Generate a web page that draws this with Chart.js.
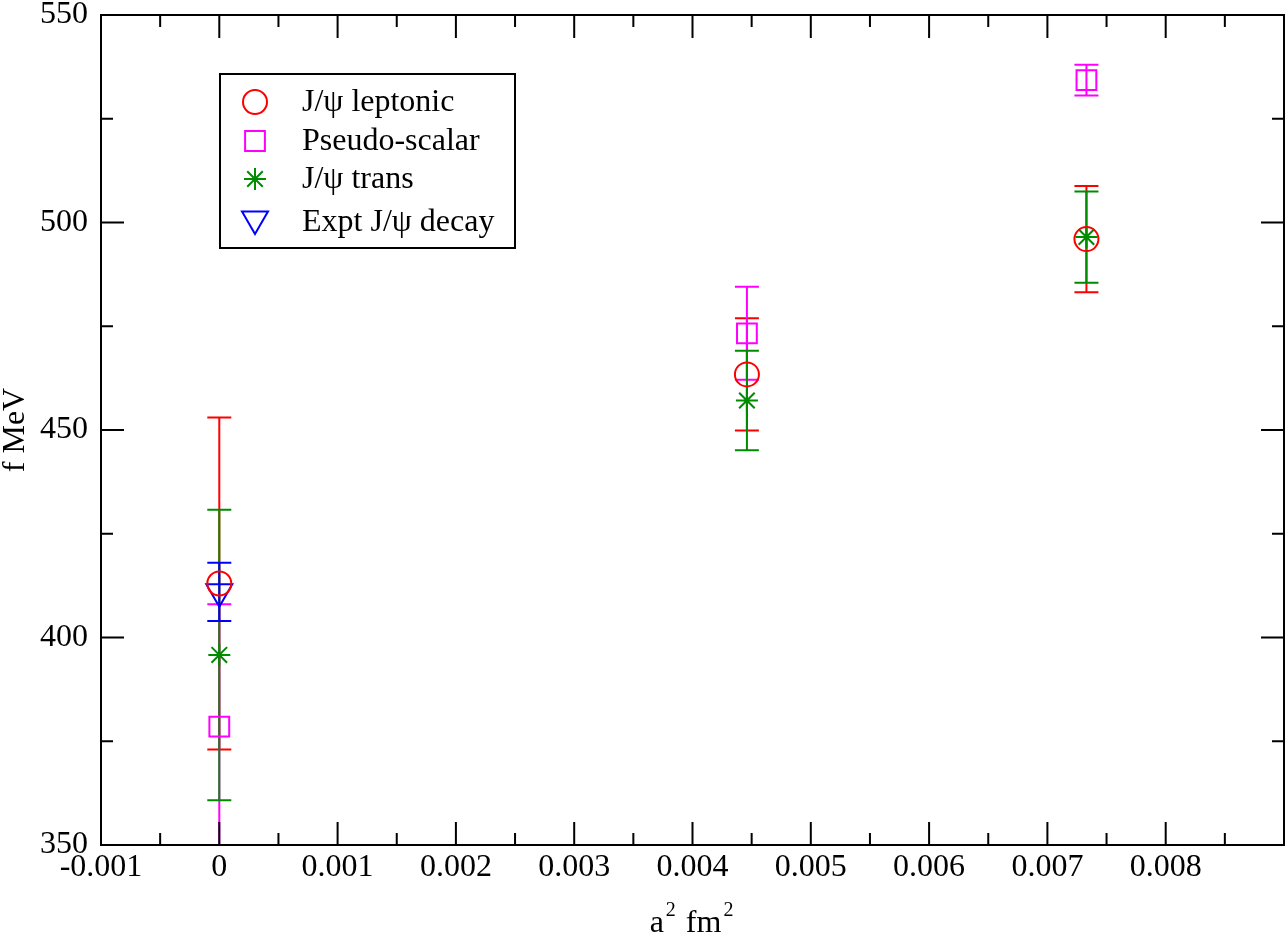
<!DOCTYPE html>
<html>
<head>
<meta charset="utf-8">
<script src="https://cdn.jsdelivr.net/npm/chart.js@4/dist/chart.umd.min.js"></script>
<style>
  html, body { margin: 0; padding: 0; background: #fff; }
  #wrap { width: 1286px; height: 936px; }
</style>
</head>
<body>
<div id="wrap"><canvas id="grafica" width="1286" height="936"></canvas></div>
<script>
// Datos
const latticeX = [0, 0.00446, 0.00733];

const leptonicVal = [413, 463.4, 496];
const leptonicErr = [40, 13.5, 12.8];

const pseudoVal = [378.5, 473.3, 534.3];
const pseudoErr = [29.5, 11.2, 3.7];

const transVal = [395.8, 457.1, 496.5];
const transErr = [35, 12, 11];

const exptX = [0];
const exptVal = [411];
const exptErr = [7];

const seriesNames = ["J/\u03C8 leptonic", "Pseudo-scalar", "J/\u03C8 trans", "Expt J/\u03C8 decay"];

const xTickLabels = ["-0.001", "0", "0.001", "0.002", "0.003", "0.004", "0.005", "0.006", "0.007", "0.008", ""];
const yTickLabels = ["350", "400", "450", "500", "550"];

const SERIF = "'Liberation Serif', 'Times New Roman', serif";

function puntos(xs, ys) {
  return xs.map((x, i) => ({ x: x, y: ys[i] }));
}

// Barras de error verticales con remates
const barrasError = {
  id: "barrasError",
  beforeDatasetsDraw(chart) {
    const ctx = chart.ctx;
    const yScale = chart.scales.y;
    const area = chart.chartArea;
    ctx.save();
    ctx.beginPath();
    ctx.rect(area.left, area.top, area.right - area.left, area.bottom - area.top);
    ctx.clip();
    chart.data.datasets.forEach((ds, i) => {
      const meta = chart.getDatasetMeta(i);
      ctx.strokeStyle = ds.borderColor;
      ctx.lineWidth = 2;
      meta.data.forEach((el, j) => {
        const v = ds.data[j].y;
        const e = ds.errores[j];
        const yTop = yScale.getPixelForValue(v + e);
        const yBot = yScale.getPixelForValue(v - e);
        const x = el.x;
        ctx.beginPath();
        ctx.moveTo(x, yTop); ctx.lineTo(x, yBot);
        ctx.moveTo(x - 12, yTop); ctx.lineTo(x + 12, yTop);
        ctx.moveTo(x - 12, yBot); ctx.lineTo(x + 12, yBot);
        ctx.stroke();
      });
    });
    ctx.restore();
  }
};

// Marco, marcas hacia dentro, título del eje x y leyenda
const marcoYLeyenda = {
  id: "marcoYLeyenda",
  afterDraw(chart) {
    const ctx = chart.ctx;
    const a = chart.chartArea;
    const xs = chart.scales.x;
    const ys = chart.scales.y;
    ctx.save();
    ctx.strokeStyle = "#000";
    ctx.lineWidth = 2;
    ctx.strokeRect(a.left, a.top, a.right - a.left, a.bottom - a.top);

    const mayor = 23, menor = 12;
    ctx.beginPath();
    const xt = xs.ticks.map(t => t.value);
    xt.forEach((v, i) => {
      const px = xs.getPixelForValue(v);
      ctx.moveTo(px, a.bottom); ctx.lineTo(px, a.bottom - mayor);
      ctx.moveTo(px, a.top); ctx.lineTo(px, a.top + mayor);
      if (i < xt.length - 1) {
        const pm = xs.getPixelForValue((v + xt[i + 1]) / 2);
        ctx.moveTo(pm, a.bottom); ctx.lineTo(pm, a.bottom - menor);
        ctx.moveTo(pm, a.top); ctx.lineTo(pm, a.top + menor);
      }
    });
    const yt = ys.ticks.map(t => t.value);
    yt.forEach((v, i) => {
      const py = ys.getPixelForValue(v);
      ctx.moveTo(a.left, py); ctx.lineTo(a.left + mayor, py);
      ctx.moveTo(a.right, py); ctx.lineTo(a.right - mayor, py);
      if (i < yt.length - 1) {
        const pm = ys.getPixelForValue((v + yt[i + 1]) / 2);
        ctx.moveTo(a.left, pm); ctx.lineTo(a.left + menor, pm);
        ctx.moveTo(a.right, pm); ctx.lineTo(a.right - menor, pm);
      }
    });
    ctx.stroke();

    // Título del eje x con superíndices, centrado bajo el área
    ctx.fillStyle = "#000";
    ctx.textBaseline = "alphabetic";
    ctx.textAlign = "left";
    const partes = [["a", 32, 0], ["2", 20, -16], [" fm", 32, 0], ["2", 20, -16]];
    let total = 0;
    partes.forEach(p => { ctx.font = p[1] + "px " + SERIF; total += ctx.measureText(p[0]).width + 2; });
    let x = (a.left + a.right) / 2 - total / 2;
    const base = 932;
    partes.forEach(p => {
      ctx.font = p[1] + "px " + SERIF;
      ctx.fillText(p[0], x, base + p[2]);
      x += ctx.measureText(p[0]).width + 2;
    });

    // Leyenda
    ctx.fillStyle = "#fff";
    ctx.fillRect(220, 74, 295, 174);
    ctx.strokeStyle = "#000";
    ctx.lineWidth = 2;
    ctx.strokeRect(220, 74, 295, 174);
    const filas = [102, 141, 179, 219];
    chart.data.datasets.forEach((ds, i) => {
      ctx.strokeStyle = ds.borderColor;
      ctx.fillStyle = "rgba(0,0,0,0)";
      ctx.lineWidth = 2;
      Chart.helpers.drawPoint(ctx, {
        pointStyle: ds.pointStyle,
        rotation: ds.rotation || 0,
        radius: ds.pointRadius,
        borderWidth: 2
      }, 255, filas[i]);
      ctx.fillStyle = "#000";
      ctx.font = "32px " + SERIF;
      ctx.textBaseline = "middle";
      ctx.fillText(ds.label, 302, (i === 3 ? 222 : filas[i]) + 1);
    });
    ctx.restore();
  }
};

const datasets = [
  {
    label: seriesNames[0],
    data: puntos(latticeX, leptonicVal),
    errores: leptonicErr,
    borderColor: "#ff0000",
    backgroundColor: "rgba(0,0,0,0)",
    pointStyle: "circle",
    pointRadius: 12,
    borderWidth: 2
  },
  {
    label: seriesNames[1],
    data: puntos(latticeX, pseudoVal),
    errores: pseudoErr,
    borderColor: "#ff00ff",
    backgroundColor: "rgba(0,0,0,0)",
    pointStyle: "rect",
    pointRadius: 14,
    borderWidth: 2
  },
  {
    label: seriesNames[2],
    data: puntos(latticeX, transVal),
    errores: transErr,
    borderColor: "#008b00",
    backgroundColor: "rgba(0,0,0,0)",
    pointStyle: "star",
    pointRadius: 11,
    borderWidth: 2
  },
  {
    label: seriesNames[3],
    data: puntos(exptX, exptVal),
    errores: exptErr,
    borderColor: "#0000ff",
    backgroundColor: "rgba(0,0,0,0)",
    pointStyle: "triangle",
    rotation: 180,
    pointRadius: 15,
    borderWidth: 2
  }
];

datasets.forEach(d => {
  d.pointRotation = d.rotation || 0;
  d.pointBorderWidth = 2;
  d.pointHoverRadius = d.pointRadius;
});

new Chart(document.getElementById("grafica").getContext("2d"), {
  type: "scatter",
  data: { datasets: datasets },
  options: {
    responsive: false,
    animation: false,
    layout: { autoPadding: false, padding: { top: 15, right: 2, left: 0, bottom: 0 } },
    plugins: {
      legend: { display: false },
      tooltip: { enabled: false }
    },
    scales: {
      x: {
        type: "linear",
        min: -0.001,
        max: 0.009,
        afterFit: s => {
          s.height = 91;
          s.paddingLeft = 0; s.paddingRight = 0;
        },
        border: { display: false },
        grid: { display: false, drawTicks: false },
        ticks: {
          stepSize: 0.001,
          padding: 3,
          color: "#000",
          font: { family: SERIF, size: 32 },
          maxRotation: 0,
          autoSkip: false,
          callback: (v, i) => xTickLabels[i]
        }
      },
      y: {
        type: "linear",
        min: 350,
        max: 550,
        afterFit: s => {
          s.width = 101;
          s.paddingTop = 0; s.paddingBottom = 0;
        },
        border: { display: false },
        grid: { display: false, drawTicks: false },
        title: {
          display: true,
          text: "f MeV",
          color: "#000",
          padding: 0,
          font: { family: SERIF, size: 32, lineHeight: 1 }
        },
        ticks: {
          stepSize: 50,
          padding: 13,
          color: "#000",
          font: { family: SERIF, size: 32 },
          callback: (v, i) => yTickLabels[i]
        }
      }
    }
  },
  plugins: [barrasError, marcoYLeyenda]
});
</script>
</body>
</html>
